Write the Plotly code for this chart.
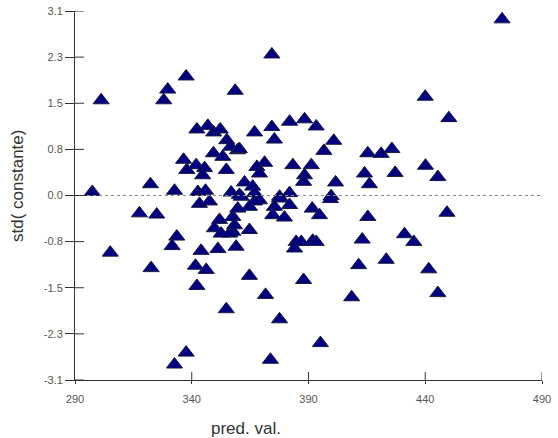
import plotly.graph_objects as go

# Data
pred_val = [301.2, 337.6, 329.7, 328.0, 297.4, 322.3, 332.6, 342.2, 346.9, 349.4,
            352.2, 355.0, 356.6, 359.6, 349.3, 353.3, 336.5, 341.9, 337.9, 345.5,
            344.7, 354.8, 342.6, 345.9, 356.9, 374.3, 358.6, 381.9, 388.3, 393.3,
            374.3, 366.9, 375.4, 360.4, 400.8, 396.6, 415.4, 421.1, 371.2, 367.9,
            369.0, 383.3, 391.2, 388.3, 387.9, 414.0, 416.1, 401.6, 362.6, 366.1,
            366.9, 360.4, 377.6, 381.9, 399.7, 472.9, 440.0, 450.1, 425.7, 427.1,
            440.1, 445.4, 343.3, 347.6, 317.6, 325.0, 351.9, 357.6, 349.7, 352.6,
            357.6, 333.6, 331.6, 305.1, 344.0, 351.2, 359.0, 322.6, 341.6, 346.2,
            342.2, 354.8, 337.6, 332.6, 361.2, 369.0, 377.6, 381.9, 375.4, 374.7,
            379.7, 391.6, 394.7, 399.4, 415.4, 413.0, 411.5, 408.5, 423.3, 358.3,
            364.7, 356.2, 384.7, 391.8, 386.9, 384.0, 393.3, 364.7, 387.9, 371.6,
            377.6, 395.1, 373.7, 449.3, 431.1, 435.1, 441.5, 445.4, 366.9, 364.7,
            359.7]
std_resid = [1.60, 2.00, 1.78, 1.60, 0.06, 0.19, 0.08, 1.11, 1.17, 1.06,
             1.11, 0.93, 0.82, 0.76, 0.71, 0.65, 0.60, 0.51, 0.43, 0.46,
             0.34, 0.43, 0.06, 0.08, 0.05, 2.37, 1.76, 1.24, 1.28, 1.16,
             1.15, 1.06, 0.94, 0.78, 0.92, 0.75, 0.71, 0.70, 0.55, 0.48,
             0.37, 0.51, 0.51, 0.34, 0.23, 0.37, 0.19, 0.22, 0.22, 0.15,
             0.04, 0.01, -0.02, 0.04, -0.01, 2.96, 1.66, 1.30, 0.78, 0.38,
             0.50, 0.31, -0.14, -0.10, -0.30, -0.32, -0.41, -0.36, -0.55, -0.64,
             -0.61, -0.69, -0.85, -0.96, -0.93, -0.90, -0.86, -1.22, -1.18, -1.25,
             -1.52, -1.91, -2.64, -2.84, -0.02, -0.08, -0.05, -0.16, -0.19, -0.33,
             -0.37, -0.22, -0.33, -0.06, -0.36, -0.74, -1.17, -1.71, -1.08, -0.50,
             -0.58, -0.64, -0.78, -0.76, -0.78, -0.89, -0.78, -1.35, -1.42, -1.67,
             -2.08, -2.48, -2.76, -0.29, -0.65, -0.78, -1.24, -1.64, -0.10, -0.19,
             -0.22]

x_ticks = [290, 340, 390, 440, 490]
y_ticks = [-3.1, -2.325, -1.55, -0.775, 0.0, 0.775, 1.55, 2.325, 3.1]
y_tick_text = ["-3.1", "-2.3", "-1.5", "-0.8", "0.0", "0.8", "1.5", "2.3", "3.1"]

W, H = 558, 438
ML, MR, MT, MB = 75, 16, 11, 58
plot_w = W - ML - MR
plot_h = H - MT - MB

fig = go.Figure()
fig.add_trace(go.Scatter(
    x=pred_val, y=std_resid, mode="markers",
    marker=dict(symbol="triangle-up", size=14, color="#000080",
                line=dict(color="#1a1a40", width=1)),
    cliponaxis=False, showlegend=False, hoverinfo="skip",
))

shapes = []
# dashed zero line
shapes.append(dict(type="line", xref="x", yref="y", x0=290, x1=490, y0=0, y1=0,
                   line=dict(color="#888888", width=1, dash="3px,3px")))
# inside parts of ticks (ticks cross the axis)
for yv in y_ticks:
    shapes.append(dict(type="line", xref="paper", yref="y", x0=0, x1=9 / plot_w,
                       y0=yv, y1=yv, line=dict(color="#333333", width=1)))
for xv in x_ticks[1:]:
    shapes.append(dict(type="line", xref="x", yref="paper", x0=xv, x1=xv,
                       y0=0, y1=8 / plot_h, line=dict(color="#333333", width=1)))

fig.update_layout(
    width=W, height=H,
    margin=dict(l=ML, r=MR, t=MT, b=MB, autoexpand=False),
    paper_bgcolor="white", plot_bgcolor="white",
    font=dict(family="Liberation Sans, Arial, sans-serif"),
    shapes=shapes,
    xaxis=dict(range=[290, 490], tickvals=x_ticks, ticktext=[str(v) for v in x_ticks],
               showgrid=False, zeroline=False, showline=True, linecolor="#333333",
               linewidth=1, ticks="outside", ticklen=3, tickcolor="#333333",
               tickfont=dict(size=11, color="#555555"), ticklabelstandoff=6,
               automargin=False),
    yaxis=dict(range=[-3.1, 3.1], tickvals=y_ticks, ticktext=y_tick_text,
               showgrid=False, zeroline=False, showline=True, linecolor="#333333",
               linewidth=1, ticks="outside", ticklen=9, tickcolor="#333333",
               tickfont=dict(size=11, color="#555555"), automargin=False),
    annotations=[
        dict(text="pred. val.", xref="paper", yref="paper",
             x=(246 - ML) / plot_w, y=-(428 - (H - MB)) / plot_h,
             xanchor="center", yanchor="middle", showarrow=False,
             font=dict(size=17, color="#333333")),
        dict(text="std( constante)", xref="paper", yref="paper",
             x=-(ML - 17) / plot_w, y=(H - MB - 186) / plot_h,
             xanchor="center", yanchor="middle", showarrow=False, textangle=-90,
             font=dict(size=17, color="#333333")),
    ],
)

fig.write_html("out.html", config={"displayModeBar": False})
